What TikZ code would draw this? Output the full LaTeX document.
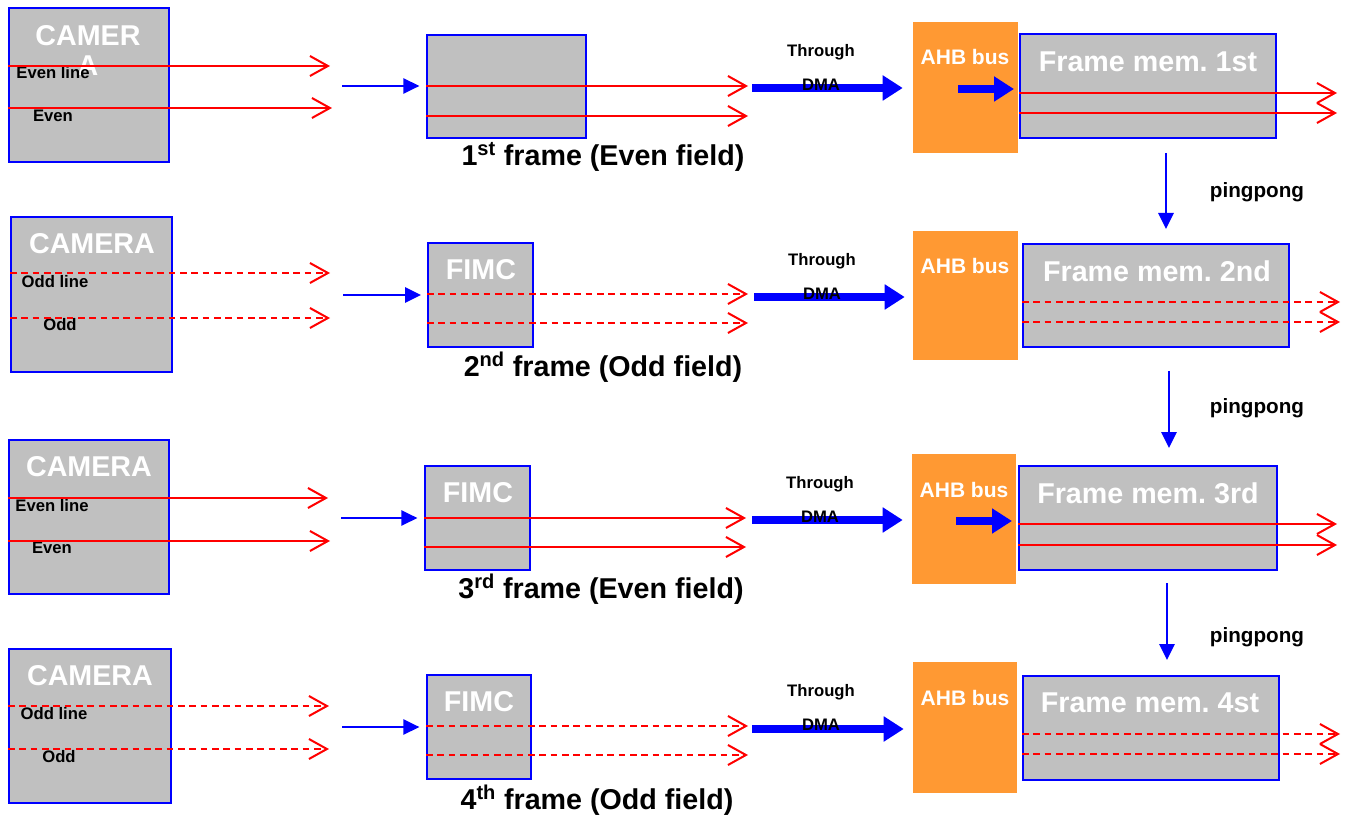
\documentclass[tikz,border=0pt]{standalone}
\usepackage{fontspec}
\setmainfont{Liberation Sans}
\usetikzlibrary{arrows.meta,calc,positioning}
\definecolor{boxgray}{HTML}{C0C0C0}
\definecolor{busorange}{HTML}{FF9933}
\frenchspacing
\tikzset{unit/.style={draw=blue, fill=boxgray, line width=1.5pt, inner sep=0pt},
  bus/.style={fill=busorange, inner sep=0pt},
  wtxt/.style={text=white, font=\fontsize{21.5}{22.5}\selectfont\bfseries, align=center, inner sep=0pt},
  ttl/.style={font=\fontsize{21.5}{22.5}\selectfont\bfseries, inner sep=0pt},
  lbl/.style={font=\fontsize{12.5}{14}\selectfont\bfseries, inner sep=0pt},
  ahbt/.style={text=white, font=\fontsize{15.75}{17}\selectfont\bfseries, inner sep=0pt},
  pping/.style={font=\fontsize{15.5}{17}\selectfont\bfseries, inner sep=0pt},
  rl/.style={red, line width=1.5pt, -{Straight Barb[length=13.5pt, width=15pt]}},
  rd/.style={rl, dash pattern=on 5pt off 3.5pt},
  pin/.style={blue, line width=1.5pt, -{Triangle[length=12pt, width=11.5pt]}},
  fat/.style={blue, line width=6pt, -{Triangle[length=15pt, width=18pt]}}}

\begin{document}
\begin{tikzpicture}[x=0.75pt, y=-0.75pt]
  \useasboundingbox (0,0) rectangle (1345,816);
  % boxes
  \node[unit, minimum width=120pt, minimum height=115.5pt] (cam1) at (89,85) {};
  \node[unit, minimum width=120.75pt, minimum height=116.25pt] (cam2) at (91.5,294.5) {};
  \node[unit, minimum width=120pt, minimum height=115.5pt] (cam3) at (89,517) {};
  \node[unit, minimum width=121.5pt, minimum height=115.5pt] (cam4) at (90,726) {};
  \node[unit, minimum width=119.25pt, minimum height=77.25pt] (fimc1) at (506.5,86.5) {};
  \node[unit, minimum width=78.75pt, minimum height=78pt] (fimc2) at (480.5,295) {};
  \node[unit, minimum width=78.75pt, minimum height=78pt] (fimc3) at (477.5,518) {};
  \node[unit, minimum width=78pt, minimum height=78pt] (fimc4) at (479,727) {};
  \node[bus, minimum width=78.75pt, minimum height=98.25pt] (ahb1) at (965.5,87.5) {};
  \node[bus, minimum width=78.75pt, minimum height=96.75pt] (ahb2) at (965.5,295.5) {};
  \node[bus, minimum width=78pt, minimum height=97.5pt] (ahb3) at (964,519) {};
  \node[bus, minimum width=78pt, minimum height=98.25pt] (ahb4) at (965,727.5) {};
  \node[unit, minimum width=192pt, minimum height=78pt] (mem1) at (1148,86) {};
  \node[unit, minimum width=199.5pt, minimum height=77.25pt] (mem2) at (1156,295.5) {};
  \node[unit, minimum width=193.5pt, minimum height=78pt] (mem3) at (1148,518) {};
  \node[unit, minimum width=192pt, minimum height=78pt] (mem4) at (1151,728) {};

  % white captions
  \node[wtxt] (cam1t) at (88,50) {CAMER\\A};
  \node[wtxt] (cam2t) at (92,244) {CAMERA};
  \node[wtxt] (cam3t) at (89,467) {CAMERA};
  \node[wtxt] (cam4t) at (90,676) {CAMERA};
  \node[wtxt] (fimc2t) at (481,270) {FIMC};
  \node[wtxt] (fimc3t) at (478,493) {FIMC};
  \node[wtxt] (fimc4t) at (479,702) {FIMC};
  \node[ahbt] (ahb1t) at (965,57) {AHB bus};
  \node[ahbt] (ahb2t) at (965,266) {AHB bus};
  \node[ahbt] (ahb3t) at (964,490) {AHB bus};
  \node[ahbt] (ahb4t) at (965,698) {AHB bus};
  \node[wtxt] (mem1t) at (1148,62) {Frame mem. 1st};
  \node[wtxt] (mem2t) at (1157,271) {Frame mem. 2nd};
  \node[wtxt] (mem3t) at (1148,493) {Frame mem. 3rd};
  \node[wtxt] (mem4t) at (1150,703) {Frame mem. 4st};

  % camera lines
  \node[lbl] (l1a) at (53,73) {Even line};
  \node[lbl] (l1b) at (53,116) {Even};
  \node[lbl] (l2a) at (55,282) {Odd line};
  \node[lbl] (l2b) at (60,325) {Odd};
  \node[lbl] (l3a) at (52,506) {Even line};
  \node[lbl] (l3b) at (52,548) {Even};
  \node[lbl] (l4a) at (54,714) {Odd line};
  \node[lbl] (l4b) at (59,757) {Odd};
  \coordinate (e1a) at (330,66);  \coordinate (e1b) at (332,108);
  \coordinate (e2a) at (330,273); \coordinate (e2b) at (330,318);
  \coordinate (e3a) at (328,498); \coordinate (e3b) at (330,541);
  \coordinate (e4a) at (329,706); \coordinate (e4b) at (329,749);
  \draw[rl] (cam1.west |- e1a) -- (e1a);
  \draw[rl] (cam1.west |- e1b) -- (e1b);
  \draw[rd] (cam2.west |- e2a) -- (e2a);
  \draw[rd] (cam2.west |- e2b) -- (e2b);
  \draw[rl] (cam3.west |- e3a) -- (e3a);
  \draw[rl] (cam3.west |- e3b) -- (e3b);
  \draw[rd] (cam4.west |- e4a) -- (e4a);
  \draw[rd] (cam4.west |- e4b) -- (e4b);

  % into FIMC
  \coordinate (i1) at (342,86);  \coordinate (i2) at (343,295);
  \coordinate (i3) at (341,518); \coordinate (i4) at (342,727);
  \draw[pin, shorten >=5pt] (i1) -- (i1 -| fimc1.west);
  \draw[pin, shorten >=4.5pt] (i2) -- (i2 -| fimc2.west);
  \draw[pin, shorten >=5pt] (i3) -- (i3 -| fimc3.west);
  \draw[pin, shorten >=5pt] (i4) -- (i4 -| fimc4.west);

  % FIMC lines
  \coordinate (f1a) at (748,86);  \coordinate (f1b) at (748,116);
  \coordinate (f2a) at (748,294); \coordinate (f2b) at (748,323);
  \coordinate (f3a) at (746,518); \coordinate (f3b) at (746,547);
  \coordinate (f4a) at (748,726); \coordinate (f4b) at (748,755);
  \draw[rl] (fimc1.west |- f1a) -- (f1a);
  \draw[rl] (fimc1.west |- f1b) -- (f1b);
  \draw[rd] (fimc2.west |- f2a) -- (f2a);
  \draw[rd] (fimc2.west |- f2b) -- (f2b);
  \draw[rl] (fimc3.west |- f3a) -- (f3a);
  \draw[rl] (fimc3.west |- f3b) -- (f3b);
  \draw[rd] (fimc4.west |- f4a) -- (f4a);
  \draw[rd] (fimc4.west |- f4b) -- (f4b);

  % frame titles
  \node[ttl] (t1) at (603,157) {1\textsuperscript{st} frame (Even field)};
  \node[ttl] (t2) at (603,367) {2\textsuperscript{nd} frame (Odd field)};
  \node[ttl] (t3) at (601,589) {3\textsuperscript{rd} frame (Even field)};
  \node[ttl] (t4) at (597,800) {4\textsuperscript{th} frame (Odd field)};

  % DMA to the bus
  \coordinate (d1) at (752,88);  \coordinate (d2) at (754,297);
  \coordinate (d3) at (752,520); \coordinate (d4) at (752,729);
  \draw[fat, shorten >=7.5pt] (d1) -- (d1 -| ahb1.west);
  \draw[fat, shorten >=6pt] (d2) -- (d2 -| ahb2.west);
  \draw[fat, shorten >=6.75pt] (d3) -- (d3 -| ahb3.west);
  \draw[fat, shorten >=6.75pt] (d4) -- (d4 -| ahb4.west);
  \foreach \n/\x/\y in {1/821/52, 2/822/261, 3/820/484, 4/821/692}{
    \node[lbl] (thr\n) at (\x,\y) {Through};
    \node[lbl] (dma\n) at (\x,\y+33) {DMA};
  }

  % bus into memory
  \coordinate (s1) at (958,89); \coordinate (s3) at (956,521);
  \draw[fat, shorten >=3.75pt] (s1) -- (s1 -| mem1.west);
  \draw[fat, shorten >=4.5pt] (s3) -- (s3 -| mem3.west);

  % memory lines
  \coordinate (m1a) at (1337,93);  \coordinate (m1b) at (1337,113);
  \coordinate (m2a) at (1340,302); \coordinate (m2b) at (1340,322);
  \coordinate (m3a) at (1337,524); \coordinate (m3b) at (1337,545);
  \coordinate (m4a) at (1340,734); \coordinate (m4b) at (1340,754);
  \draw[rl] (mem1.west |- m1a) -- (m1a);
  \draw[rl] (mem1.west |- m1b) -- (m1b);
  \draw[rd] (mem2.west |- m2a) -- (m2a);
  \draw[rd] (mem2.west |- m2b) -- (m2b);
  \draw[rl] (mem3.west |- m3a) -- (m3a);
  \draw[rl] (mem3.west |- m3b) -- (m3b);
  \draw[rd] (mem4.west |- m4a) -- (m4a);
  \draw[rd] (mem4.west |- m4b) -- (m4b);

  % pingpong between buffers
  \coordinate (p1) at (1166,153); \coordinate (p2) at (1169,371); \coordinate (p3) at (1167,583);
  \draw[pin, shorten >=10.5pt] (p1) -- (p1 |- mem2.north);
  \draw[pin, shorten >=12.75pt] (p2) -- (p2 |- mem3.north);
  \draw[pin, shorten >=11.25pt] (p3) -- (p3 |- mem4.north);
  \node[pping] (pp1) at (1257,192) {pingpong};
  \node[pping] (pp2) at (1257,408) {pingpong};
  \node[pping] (pp3) at (1257,637) {pingpong};
\end{tikzpicture}
\end{document}
